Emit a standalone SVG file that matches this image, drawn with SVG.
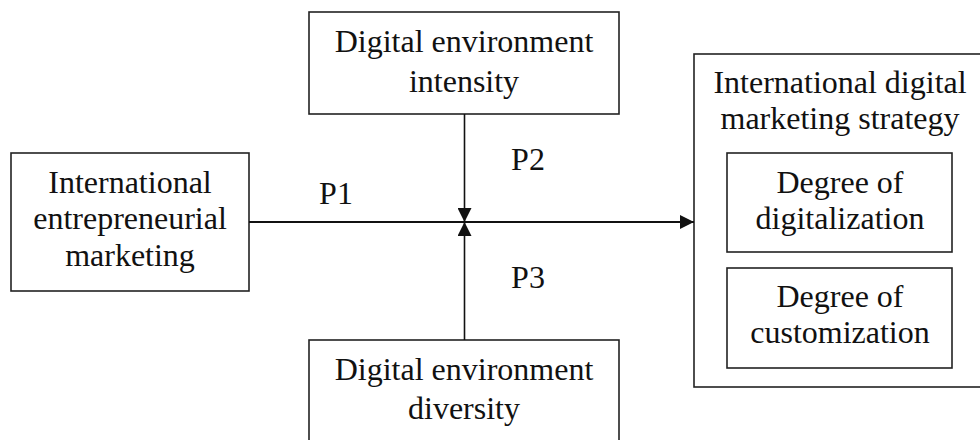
<svg xmlns="http://www.w3.org/2000/svg" width="980" height="440" viewBox="0 0 980 440">
<style>
.box{fill:#fff;stroke:#222;stroke-width:1.6}
.t{font-family:"Liberation Serif","Times New Roman",serif;font-size:32px;fill:#111;text-anchor:middle}
.c{stroke:#111;fill:none}
</style>
<defs>
<marker id="ah" viewBox="0 0 14 14" refX="14" refY="7" markerWidth="14" markerHeight="14" markerUnits="userSpaceOnUse" orient="auto">
<path d="M0,0 L14,7 L0,14 Z" fill="#111"/>
</marker>
</defs>
<rect width="980" height="440" fill="#fff"/>
<g id="iem">
<rect class="box" x="11" y="153" width="238" height="138"/>
<text class="t" x="130" y="193">International</text>
<text class="t" x="130" y="229">entrepreneurial</text>
<text class="t" x="130" y="266">marketing</text>
</g>
<g id="dei">
<rect class="box" x="309" y="12" width="310" height="102"/>
<text class="t" x="464" y="52">Digital environment</text>
<text class="t" x="464" y="92">intensity</text>
</g>
<g id="ded">
<rect class="box" x="309" y="340" width="310" height="110"/>
<text class="t" x="464" y="380">Digital environment</text>
<text class="t" x="464" y="419">diversity</text>
</g>
<g id="idms">
<rect class="box" x="694" y="54" width="300" height="333"/>
<text class="t" x="840" y="93">International digital</text>
<text class="t" x="840" y="129">marketing strategy</text>
</g>
<g id="dig">
<rect class="box" x="727" y="153" width="225" height="99"/>
<text class="t" x="840" y="193">Degree of</text>
<text class="t" x="840" y="229">digitalization</text>
</g>
<g id="cus">
<rect class="box" x="727" y="268" width="225" height="100"/>
<text class="t" x="840" y="307">Degree of</text>
<text class="t" x="840" y="343">customization</text>
</g>
<g id="connectors">
<line class="c" x1="249" y1="222" x2="694" y2="222" stroke-width="2" marker-end="url(#ah)"/>
<line class="c" x1="464.5" y1="114" x2="464.5" y2="222" stroke-width="1.6" marker-end="url(#ah)"/>
<line class="c" x1="464.5" y1="340" x2="464.5" y2="222" stroke-width="1.6" marker-end="url(#ah)"/>
<text class="t" x="336" y="204">P1</text>
<text class="t" x="528" y="170">P2</text>
<text class="t" x="528" y="288">P3</text>
</g>
</svg>
